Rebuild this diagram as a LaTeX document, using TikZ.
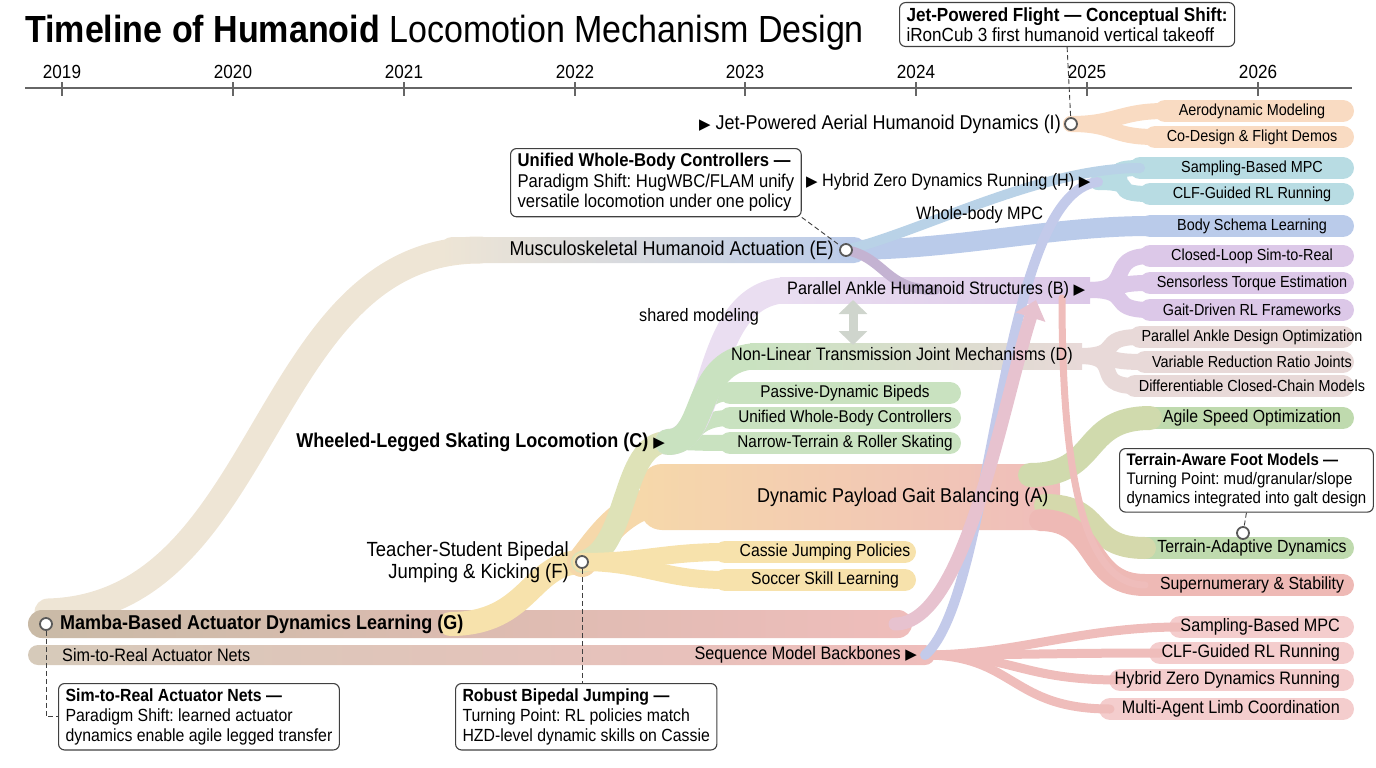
\documentclass[tikz,border=0pt]{standalone}
\usepackage{fontspec}
\setmainfont{Liberation Sans}[FakeStretch=0.9]
\newfontfamily\symfont{DejaVu Sans}
\usetikzlibrary{positioning, arrows.meta}
\frenchspacing

\definecolor{cG}{HTML}{C9BAA6}
\definecolor{cS}{HTML}{D6CABA}
\definecolor{cBeige}{HTML}{EEE5D5}
\definecolor{cI}{HTML}{F9DBC2}
\definecolor{cH}{HTML}{B8DCE3}
\definecolor{cE}{HTML}{BACBEA}
\definecolor{cB}{HTML}{DCC8E8}
\definecolor{cBd}{HTML}{C4B3D2}
\definecolor{cD}{HTML}{E8D9D8}
\definecolor{cC}{HTML}{C9E2C0}
\definecolor{cAg}{HTML}{BFDAAE}
\definecolor{cF}{HTML}{F7E2AC}
\definecolor{cA}{HTML}{F6D8AA}
\definecolor{cPink}{HTML}{EFBDBB}
\definecolor{cLeafP}{HTML}{F4CDCD}
\definecolor{cSu}{HTML}{EEB9B5}
\definecolor{cSm}{HTML}{CFD5CD}

\tikzset{
  band/.style={line cap=round, line width=#1},
  band/.default=22pt,
  leafband/.style={line cap=round, line width=22pt},
  hub/.style={inner sep=0pt, font=\fontsize{20}{22}\selectfont},
  sub/.style={inner sep=0pt, font=\fontsize{18}{20}\selectfont},
  leaf/.style={inner sep=0pt, font=\fontsize{16}{18}\selectfont},
  notebox/.style={draw=black!75, fill=white, rounded corners=6pt, line width=1.1pt,
    align=left, inner xsep=7pt, inner ysep=5pt, font=\fontsize{17.6}{20}\selectfont},
  milestone/.style={circle, draw=black!65, fill=white, line width=1.8pt, minimum size=12pt, inner sep=0pt},
  lead/.style={black!75, line width=0.9pt, dash pattern=on 5pt off 3pt},
  yr/.style={inner sep=0pt, font=\fontsize{19}{19}\selectfont},
  >=Stealth,
}
\newcommand{\tri}{{\symfont\fontsize{15}{15}\selectfont ▶}}

% leaf lists: name/y/x start/colour/size/text
\newcommand{\rightleaves}{
  aero/111/1165/cI/16/Aerodynamic Modeling,
  codes/137/1155/cI/16/Co-Design \& Flight Demos,
  sbmpc/168/1140/cH/16/Sampling-Based MPC,
  clf/194/1150/cH/16/CLF-Guided RL Running,
  body/226/1150/cE/16/Body Schema Learning,
  closed/256/1150/cB/16/Closed-Loop Sim-to-Real,
  sens/283/1150/cB/16/Sensorless Torque Estimation,
  gait/310/1150/cB/16/Gait-Driven RL Frameworks,
  pado/337/1140/cD/16/Parallel Ankle Design Optimization,
  vrrj/362/1145/cD/16/Variable Reduction Ratio Joints,
  dccm/386/1135/cD/16/Differentiable Closed-Chain Models,
  agile/418/1150/cAg/17.6/Agile Speed Optimization,
  terr/548/1145/cAg/17.6/Terrain-Adaptive Dynamics,
  super/585/1145/cSu/17.6/Supernumerary \& Stability}
\newcommand{\pinkleaves}{
  sbb/627/1180/Sampling-Based MPC,
  clfb/653/1160/CLF-Guided RL Running,
  hzdb/680/1120/Hybrid Zero Dynamics Running,
  mal/709/1110/Multi-Agent Limb Coordination}
\newcommand{\skateleaves}{
  pdb/393/Passive-Dynamic Bipeds,
  uwbc/418/Unified Whole-Body Controllers,
  ntrs/443/Narrow-Terrain \& Roller Skating}
\newcommand{\jumpleaves}{
  cjp/552/Cassie Jumping Policies,
  ssl/580/Soccer Skill Learning}

\begin{document}
\begin{tikzpicture}[x=1pt, y=-1pt]
\useasboundingbox (0,0) rectangle (1376,768);

% title and time axis
\node[inner sep=0pt, anchor=base west, font=\fontsize{37.8}{40}\selectfont] (title) at (25,43)
  {\textbf{Timeline of Humanoid} Locomotion Mechanism Design};
\coordinate (axL) at (25,88);
\coordinate (axR) at (1352,88);
\draw[black!60, line width=1.2pt] (axL) -- (axR);
\foreach \yr/\xx in {2019/62, 2020/233, 2021/404, 2022/575, 2023/745, 2024/916, 2025/1087, 2026/1258}{
  \draw[black!60, line width=1.2pt] (\xx,82) -- (\xx,96);
  \node[yr, anchor=base] (y\yr) at (\xx,78) {\yr};
}

% points where the streams meet
\coordinate (iPt) at (1071,124);
\coordinate (ePt) at (846,250);
\coordinate (fPt) at (582,562);
\coordinate (gPt) at (46,624);
\coordinate (tPt) at (1243,533);
\coordinate (gIn) at (48,612);
\coordinate (eIn) at (480,250);
\coordinate (gF) at (450,624);
\coordinate (gEnd) at (895,624);
\coordinate (cHub) at (668,442);
\coordinate (aIn) at (690,497);
\coordinate (bIn) at (790,290);
\coordinate (bHub) at (1090,290);
\coordinate (bJoin) at (935,290);
\coordinate (bDrop) at (1062,298);
\coordinate (bTip) at (1036,300);
\coordinate (dIn) at (760,356);
\coordinate (dHub) at (1080,356);
\coordinate (hHub) at (1098,182);
\coordinate (sHub) at (925,655);
\coordinate (aUp) at (1030,475);
\coordinate (aDn) at (1045,505);
\coordinate (aLow) at (1040,520);
\coordinate (smTop) at (853,300);
\coordinate (smBot) at (853,345);

% main streams, back to front
\draw[band=27pt, cBeige] (gIn) .. controls (270,606) and (260,250) .. (eIn);
\shade[left color=cBeige, right color=cE, rounded corners=12pt] (440,237) rectangle (866,263);
\shade[left color=cG, right color=cPink, rounded corners=14pt] (28,610) rectangle (912,638);
\shade[left color=cS, right color=cPink, rounded corners=10pt] (28,645) rectangle (935,665);
\draw[band=24pt, cF] (gF) .. controls (530,624) and (530,562) .. (fPt);
\draw[band=30pt, cA] (fPt) .. controls (610,525) and (630,497) .. (aIn);
\shade[left color=cA, right color=cPink, rounded corners=22pt] (640,464) rectangle (1060,530);
\draw[band=22pt, cC!55!cF] (fPt) .. controls (630,550) and (620,442) .. (cHub);

% jumping and skating branches
\foreach \nm/\yy/\txt in \jumpleaves{
  \coordinate (\nm-in) at (725,\yy);
  \draw[band=18pt, cF] (fPt) .. controls +(60,0) and +(-60,0) .. (\nm-in);
  \draw[leafband, cF] (\nm-in) -- (905,\yy);
}
\foreach \nm/\yy/\txt in \skateleaves{
  \coordinate (\nm-in) at (730,\yy);
  \draw[band=16pt, cC] (cHub) .. controls +(30,0) and +(-40,0) .. (\nm-in);
  \draw[leafband, cC] (\nm-in) -- (950,\yy);
}

% ankle and transmission streams
\draw[band=26pt, cB!60] (cHub) .. controls (720,442) and (700,290) .. (bIn);
\shade[left color=cB!60, right color=cB] (780,277) rectangle (1090,303);
\draw[band=26pt, cC] (cHub) .. controls (710,442) and (690,356) .. (dIn);
\shade[left color=cC, right color=cD] (750,343) rectangle (1082,369);

% right-hand leaves
\foreach \nm/\yy/\xs/\cl/\fs/\txt in \rightleaves{
  \coordinate (\nm-in) at (\xs,\yy);
  \draw[leafband, color=\cl] (\nm-in) -- (1343,\yy);
}
\foreach \nm/\yy/\xs/\txt in \pinkleaves{
  \coordinate (\nm-in) at (\xs,\yy);
  \draw[leafband, cLeafP] (\nm-in) -- (1343,\yy);
}

% fans into the leaves
\foreach \nm/\cl/\hb in {aero/cI/iPt, codes/cI/iPt, sbmpc/cH/hHub, clf/cH/hHub,
    closed/cB/bHub, sens/cB/bHub, gait/cB/bHub, pado/cD/dHub, vrrj/cD/dHub, dccm/cD/dHub}
  \draw[band=16pt, color=\cl] (\hb) .. controls +(45,0) and +(-45,0) .. (\nm-in);
\draw[band=20pt, cE] (ePt) .. controls +(110,0) and +(-100,0) .. (body-in);
\draw[band=10pt, cE!60!cH] (ePt) .. controls +(80,-20) and +(-100,0) .. (sbmpc-in);
\draw[band=10pt, cBd] (ePt) .. controls +(40,8) and +(-50,0) .. (bJoin);
\draw[band=24pt, cAg!70!cA] (aUp) .. controls +(70,0) and +(-70,0) .. (agile-in);
\draw[band=22pt, cAg!60!cA] (aDn) .. controls +(60,0) and +(-60,0) .. (terr-in);
\draw[band=22pt, cSu] (aLow) .. controls +(60,0) and +(-60,0) .. (super-in);
\foreach \nm in {sbb, clfb, hzdb, mal}
  \draw[band=9pt, cPink] (sHub) .. controls +(90,0) and +(-100,0) .. (\nm-in);

% steep cross links
\draw[band=10pt, cE!75!cB] (sHub) .. controls +(70,-60) and +(-100,10) .. (hHub);
\draw[band=13pt, cPink!55!cB, -{Triangle[length=18pt, width=30pt]}] (gEnd) .. controls +(70,0) and +(-35,110) .. (bTip);
\draw[band=7pt, cPink] (bDrop) .. controls +(0,180) and +(-60,0) .. (super-in);
\draw[line width=9pt, cSm, {Triangle[length=14pt, width=28pt]}-{Triangle[length=14pt, width=28pt]}] (smTop) -- (smBot);

% stream labels
\node[hub, anchor=east] (I) at (1061,124) {\tri\ Jet-Powered Aerial Humanoid Dynamics (I)};
\node[sub, anchor=west] (H) at (806,182) {\tri\ Hybrid Zero Dynamics Running (H) \tri};
\node[sub, anchor=west] (wbmpc) at (916,215) {Whole-body MPC};
\node[hub, anchor=east] (E) at (834,250) {Musculoskeletal Humanoid Actuation (E)};
\node[sub, anchor=west] (B) at (787,290) {Parallel Ankle Humanoid Structures (B) \tri};
\node[sub, anchor=west] (shared) at (639,317) {shared modeling};
\node[sub, anchor=west] (D) at (731,356) {Non-Linear Transmission Joint Mechanisms (D)};
\node[hub, anchor=east, font=\bfseries\fontsize{20}{22}\selectfont] (C) at (665,442) {Wheeled-Legged Skating Locomotion (C) \tri};
\node[hub, anchor=west] (A) at (757,497) {Dynamic Payload Gait Balancing (A)};
\node[sub, anchor=east, align=right, font=\fontsize{20.5}{22}\selectfont] (F) at (569,562) {Teacher-Student Bipedal\\Jumping \& Kicking (F)};
\node[hub, anchor=west, font=\bfseries\fontsize{20}{22}\selectfont] (G) at (60,624) {Mamba-Based Actuator Dynamics Learning (G)};
\node[sub, anchor=west] (S) at (62,655) {Sim-to-Real Actuator Nets};
\node[sub, anchor=east] (Seq) at (917,655) {Sequence Model Backbones \tri};

% leaf labels
\foreach \nm/\yy/\xs/\cl/\fs/\txt in \rightleaves
  \node[leaf, font=\fontsize{\fs}{20}\selectfont] (\nm) at (1252,\yy) {\txt};
\foreach \nm/\yy/\xs/\txt in \pinkleaves
  \node[leaf, font=\fontsize{18}{20}\selectfont, anchor=east] (\nm) at (1340,\yy) {\txt};
\foreach \nm/\yy/\txt in \skateleaves
  \node[leaf, font=\fontsize{17}{19}\selectfont] (\nm) at (845,\yy) {\txt};
\foreach \nm/\yy/\txt in \jumpleaves
  \node[leaf, font=\fontsize{17.5}{19}\selectfont] (\nm) at (825,\yy) {\txt};

% milestones
\node[milestone] (iPin) at (iPt) {};
\node[milestone] (ePin) at (ePt) {};
\node[milestone] (fPin) at (fPt) {};
\node[milestone] (gPin) at (gPt) {};
\node[milestone] (tPin) at (tPt) {};

% notes
\node[notebox, anchor=north west, font=\fontsize{19}{20}\selectfont] (jetNote) at (899,2)
  {\textbf{Jet-Powered Flight — Conceptual Shift:}\\iRonCub 3 first humanoid vertical takeoff};
\node[notebox, anchor=north west, font=\fontsize{18.5}{20.5}\selectfont] (wbcNote) at (510,148)
  {\textbf{Unified Whole-Body Controllers —}\\Paradigm Shift: HugWBC/FLAM unify\\versatile locomotion under one policy};
\node[notebox, anchor=north west, font=\fontsize{16.7}{19}\selectfont] (footBox) at (1119,448)
  {\textbf{Terrain-Aware Foot Models —}\\Turning Point: mud/granular/slope\\dynamics integrated into galt design};
\node[notebox, anchor=north west] (actNote) at (58,683)
  {\textbf{Sim-to-Real Actuator Nets —}\\Paradigm Shift: learned actuator\\dynamics enable agile legged transfer};
\node[notebox, anchor=north west] (jumpNote) at (455,683)
  {\textbf{Robust Bipedal Jumping —}\\Turning Point: RL policies match\\HZD-level dynamic skills on Cassie};
\draw[lead] (jetNote.south) -- (iPin);
\draw[lead] (wbcNote.south east) -- (ePin);
\draw[lead] (footBox.south) -- (tPin);
\draw[lead] (gPin) |- (actNote.west);
\draw[lead] (fPin) -- (fPin |- jumpNote.north);
\end{tikzpicture}
\end{document}
